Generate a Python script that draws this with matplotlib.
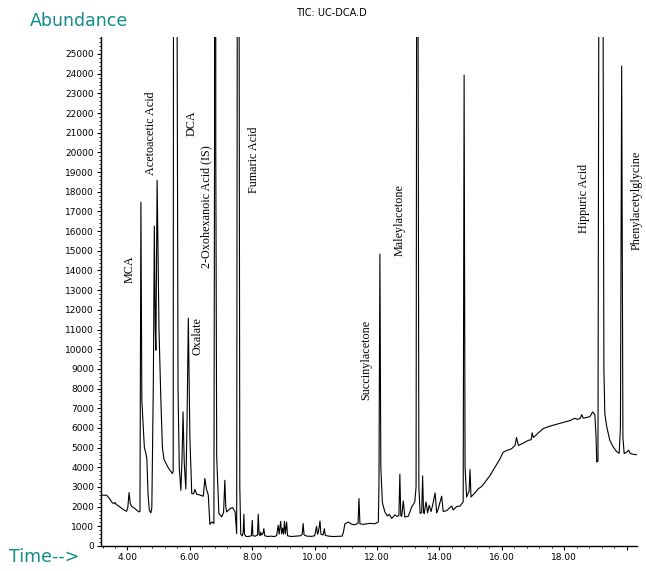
import matplotlib.pyplot as plt
from matplotlib.ticker import FixedLocator, FuncFormatter, MultipleLocator

# Retention time (min) / abundance vertices of the TIC trace, split by region.
# Off-scale apexes are given a nominal value above the axis ceiling.
early_time = [3.16, 3.33, 3.42, 3.49, 3.56, 3.60, 3.64, 3.75, 3.87, 3.97, 4.01,
              4.05, 4.09, 4.13, 4.20, 4.24, 4.31, 4.37, 4.40, 4.43, 4.46, 4.54,
              4.59, 4.62, 4.66, 4.70, 4.75, 4.78, 4.83, 4.86, 4.89, 4.91, 4.95,
              5.01, 5.07, 5.12, 5.17, 5.28, 5.36, 5.44, 5.465]
early_abundance = [2580, 2580, 2420, 2240, 2150, 2210, 2110, 1990, 1850, 1760, 1950,
                   2710, 2150, 2020, 1950, 1900, 1800, 1730, 1760, 17470, 7400, 5030,
                   4700, 4440, 2600, 1815, 1680, 1950, 8500, 16250, 11000, 9950, 18590,
                   11000, 7400, 5000, 4400, 4050, 3850, 3680, 3800]

dca_time = [5.475, 5.52, 5.585, 5.62, 5.66, 5.71, 5.75, 5.78, 5.82, 5.87, 5.91,
            5.95, 6.00, 6.06, 6.12, 6.16, 6.22, 6.30, 6.43, 6.48, 6.53, 6.59,
            6.64, 6.70, 6.77, 6.79, 6.81, 6.83, 6.86, 6.93, 7.02, 7.08, 7.12,
            7.15, 7.18, 7.29, 7.37, 7.45, 7.50, 7.52, 7.55, 7.575, 7.60, 7.63]
dca_abundance = [30000, 120000, 30000, 8000, 4000, 2830, 4500, 6810, 4200, 2900, 6500,
                 11570, 5500, 2660, 2650, 2870, 2630, 2600, 2530, 3430, 2900, 2580,
                 1100, 1220, 1150, 20000, 150000, 20000, 4500, 1650, 1480, 1700, 3340,
                 2000, 1730, 1900, 1950, 1730, 630, 30000, 150000, 30000, 3000, 595]

baseline_time = [7.68, 7.71, 7.73, 7.75, 7.80, 7.90, 7.97, 8.00, 8.02, 8.10, 8.17,
                 8.19, 8.22, 8.25, 8.27, 8.30, 8.34, 8.37, 8.40, 8.50, 8.60, 8.70,
                 8.78, 8.83, 8.86, 8.91, 8.94, 8.97, 9.00, 9.03, 9.06, 9.10, 9.13,
                 9.25, 9.40, 9.55, 9.60, 9.63, 9.66, 9.75, 9.90, 10.00, 10.06, 10.09,
                 10.12, 10.17, 10.20, 10.27, 10.31, 10.34, 10.45, 10.60, 10.75, 10.88,
                 10.92]
baseline_abundance = [510, 700, 1610, 600, 480, 490, 520, 1300, 520, 500, 560,
                      1610, 600, 520, 700, 560, 620, 880, 520, 480, 500, 480,
                      520, 1050, 600, 1250, 620, 900, 600, 1250, 620, 1220, 520,
                      480, 500, 520, 600, 1140, 560, 500, 490, 520, 1000, 600,
                      700, 1270, 600, 560, 880, 540, 500, 480, 490, 500,
                      700]

mid_time = [10.97, 11.08, 11.19, 11.29, 11.39, 11.42, 11.45, 11.56, 11.77, 11.93,
            12.04, 12.06, 12.09, 12.12, 12.17, 12.25, 12.33, 12.39, 12.47, 12.57,
            12.65, 12.70, 12.73, 12.76, 12.79, 12.84, 12.89, 13.00, 13.11, 13.21,
            13.25, 13.27, 13.29, 13.31, 13.34, 13.38, 13.43, 13.46, 13.49, 13.51,
            13.57, 13.62, 13.67, 13.73, 13.78, 13.86, 13.91, 13.96, 14.07, 14.12,
            14.23, 14.39, 14.44, 14.55, 14.66, 14.76, 14.79, 14.82, 14.87, 14.95,
            14.98, 15.01]
mid_abundance = [1130, 1220, 1100, 1080, 1150, 2410, 1130, 1100, 1150, 1130,
                 1220, 3000, 14830, 4000, 2200, 1730, 1520, 1610, 1400, 1580,
                 1500, 1550, 3650, 1550, 1500, 2290, 1470, 1510, 1985, 2240,
                 3000, 30000, 150000, 30000, 3000, 1650, 1700, 3560, 1700, 1650,
                 2240, 1680, 2070, 1750, 2070, 2700, 1680, 1880, 2530, 1750,
                 1800, 2030, 1830, 2000, 2030, 2240, 23920, 4000, 2490, 2800,
                 3880, 2490]

late_time = [15.14, 15.24, 15.35, 15.46, 15.62, 15.78, 15.94, 16.04, 16.15, 16.31,
             16.42, 16.47, 16.53, 16.69, 16.85, 16.94, 16.97, 17.01, 17.17, 17.33,
             17.54, 17.76, 17.97, 18.18, 18.34, 18.42, 18.52, 18.56, 18.61, 18.82,
             18.91, 18.98, 19.02, 19.04, 19.08, 19.11, 19.17, 19.24, 19.27, 19.30,
             19.36, 19.46, 19.57, 19.67, 19.76, 19.80, 19.84, 19.88, 19.92, 19.98,
             20.03, 20.06, 20.12, 20.20, 20.32]
late_abundance = [2700, 2900, 3020, 3240, 3580, 4000, 4430, 4760, 4850, 4940,
                  5110, 5510, 5110, 5230, 5370, 5400, 5750, 5510, 5750, 5970,
                  6090, 6190, 6280, 6370, 6490, 6430, 6500, 6680, 6490, 6570,
                  6810, 6680, 5500, 4270, 4300, 30000, 150000, 30000, 9000, 6730,
                  6070, 5370, 5030, 4810, 4710, 6000, 24390, 5500, 4700, 4750,
                  4810, 4870, 4700, 4660, 4640]

# Compound annotations: name, time and abundance where the text starts
peak_names = ['MCA', 'Acetoacetic Acid', 'DCA', 'Oxalate', '2-Oxohexanoic Acid (IS)',
              'Fumaric Acid', 'Succinylacetone', 'Maleylacetone', 'Hippuric Acid',
              'Phenylacetylglycine']
label_time = [4.06, 4.74, 6.05, 6.23, 6.53, 8.04, 11.64, 12.73, 18.63, 20.31]
label_abundance = [13360, 18850, 20830, 9700, 14120, 17930, 7410, 14730, 15890, 15030]

x_major = [4, 6, 8, 10, 12, 14, 16, 18, 20]

rt = early_time + dca_time + baseline_time + mid_time + late_time
abundance = early_abundance + dca_abundance + baseline_abundance + mid_abundance + late_abundance

teal = '#118c8c'

fig = plt.figure(figsize=(6.46, 5.71), dpi=100)
ax = fig.add_axes([0.1563, 0.0438, 0.8297, 0.892])
ax.plot(rt, abundance, color='black', lw=0.8)

ax.set_xlim(3.15, 20.33)
ax.set_ylim(0, 25880)
for side in ('top', 'right'):
    ax.spines[side].set_visible(False)
for side in ('left', 'bottom'):
    ax.spines[side].set_linewidth(1.0)

ax.xaxis.set_major_locator(FixedLocator(x_major))
ax.xaxis.set_major_formatter(FuncFormatter(lambda v, _: '' if v >= 20 else f'{v:.2f}'))
ax.xaxis.set_minor_locator(MultipleLocator(0.4))
ax.yaxis.set_major_locator(MultipleLocator(1000))
ax.yaxis.set_minor_locator(MultipleLocator(200))
ax.yaxis.set_major_formatter(FuncFormatter(lambda v, _: f'{v:.0f}'))
ax.tick_params(which='major', direction='out', length=3, width=0.8, labelsize=6.5, pad=2)
ax.tick_params(which='minor', direction='out', length=1.5, width=0.6)

for name, t, a in zip(peak_names, label_time, label_abundance):
    ax.text(t, a, name, rotation=90, ha='center', va='bottom',
            fontfamily='Liberation Serif', fontsize=8.7, clip_on=False)

fig.text(30 / 646, 1 - 21 / 571, 'Abundance', color=teal, fontsize=12.5,
         ha='left', va='center')
fig.text(331 / 646, 1 - 13 / 571, 'TIC: UC-DCA.D', fontsize=7, ha='center', va='center')
fig.text(9 / 646, 1 - 557 / 571, 'Time-->', color=teal, fontsize=12.5,
         ha='left', va='center')

fig.savefig('out.png', dpi=100)
